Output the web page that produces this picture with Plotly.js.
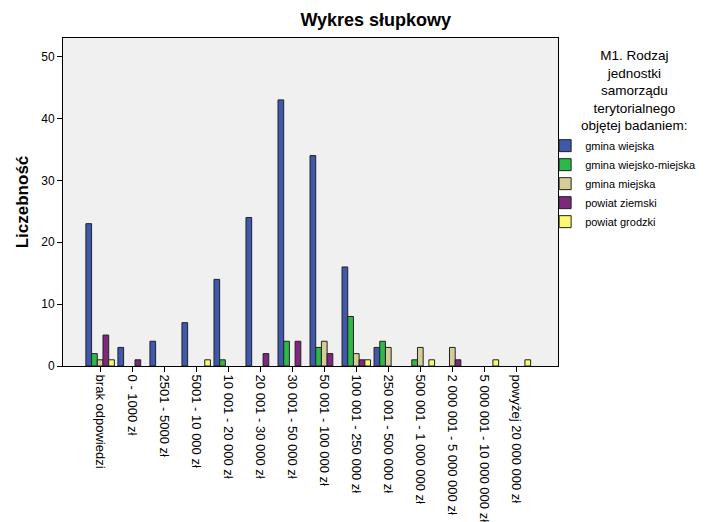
<!DOCTYPE html>
<html>
<head>
<meta charset="utf-8">
<script src="https://cdn.plot.ly/plotly-3.0.1.min.js"></script>
<style>html,body{margin:0;padding:0;background:#fff;}#chart{width:713px;height:522px;}</style>
</head>
<body>
<div id="chart"></div>
<script>
const categories = [
  "brak odpowiedzi",
  "0 - 1000 zł",
  "2501 - 5000 zł",
  "5001 - 10 000 zł",
  "10 001 - 20 000 zł",
  "20 001 - 30 000 zł",
  "30 001 - 50 000 zł",
  "50 001 - 100 000 zł",
  "100 001 - 250 000 zł",
  "250 001 - 500 000 zł",
  "500 001 - 1 000 000 zł",
  "2 000 001 - 5 000 000 zł",
  "5 000 001 - 10 000 000 zł",
  "powyżej 20 000 000 zł"
];
const seriesNames = ["gmina wiejska", "gmina wiejsko-miejska", "gmina miejska", "powiat ziemski", "powiat grodzki"];
const legendTitle = "M1. Rodzaj<br>jednostki<br>samorządu<br>terytorialnego<br>objętej badaniem:";
const gminaWiejska       = [23, 3, 4, 7, 14, 24, 43, 34, 16, 3, 0, 0, 0, 0];
const gminaWiejskoMiejska = [2, 0, 0, 0, 1, 0, 4, 3, 8, 4, 1, 0, 0, 0];
const gminaMiejska       = [1, 0, 0, 0, 0, 0, 0, 4, 2, 3, 3, 3, 0, 0];
const powiatZiemski      = [5, 1, 0, 0, 0, 2, 4, 2, 1, 0, 0, 1, 0, 0];
const powiatGrodzki      = [1, 0, 0, 1, 0, 0, 0, 0, 1, 0, 1, 0, 1, 1];
const seriesValues = [gminaWiejska, gminaWiejskoMiejska, gminaMiejska, powiatZiemski, powiatGrodzki];
const colors = ["#3E58AC", "#2EB848", "#D3CE97", "#7C287D", "#FBF873"];

const traces = seriesNames.map((name, i) => ({
  type: "bar",
  name: name,
  x: categories,
  y: seriesValues[i].map(v => v === 0 ? null : v),
  marker: {color: colors[i], line: {color: "#222", width: 1}},
  hoverinfo: "x+y+name"
}));

const font = "Liberation Sans, Arial, sans-serif";
const layout = {
  width: 713, height: 522,
  margin: {l: 63, r: 147, t: 38, b: 156, pad: 0},
  paper_bgcolor: "#ffffff",
  plot_bgcolor: "#f0f0f0",
  font: {family: font, color: "#000", size: 12},
  barmode: "group",
  bargap: 0.11,
  bargroupgap: 0,
  title: {text: "<b>Wykres słupkowy</b>", font: {family: font, size: 18, color: "#000"},
          xref: "container", x: 0.527, xanchor: "center", yref: "container", y: 0.962, yanchor: "middle"},
  xaxis: {
    type: "category",
    range: [-1.16, 14.3],
    tickangle: 90,
    ticks: "outside", ticklen: 5, tickcolor: "#000",
    showline: true, linecolor: "#000", linewidth: 1, mirror: true,
    showgrid: false, zeroline: false,
    tickfont: {family: font, size: 13, color: "#000"},
    automargin: false
  },
  yaxis: {
    range: [0, 53],
    dtick: 10,
    ticks: "outside", ticklen: 5, tickcolor: "#000",
    showline: true, linecolor: "#000", linewidth: 1, mirror: true,
    showgrid: false, zeroline: false,
    tickfont: {family: font, size: 12, color: "#000"},
    title: {text: "<b>Liczebność</b>", font: {family: font, size: 17, color: "#000"}, standoff: 8},
    automargin: false
  },
  annotations: [{
    text: legendTitle, align: "center", showarrow: false,
    xref: "paper", yref: "paper", x: 1.155, xanchor: "center", y: 0.975, yanchor: "top",
    font: {family: font, size: 13.5, color: "#000"}
  }],
  showlegend: true,
  legend: {
    xref: "paper", yref: "paper",
    x: 0.974, xanchor: "left", y: 0.716, yanchor: "top",
    bgcolor: "rgba(0,0,0,0)",
    font: {family: font, size: 11, color: "#000"},
    traceorder: "normal",
    tracegroupgap: 0
  }
};

Plotly.newPlot("chart", traces, layout, {displayModeBar: false, staticPlot: true});
</script>
</body>
</html>
